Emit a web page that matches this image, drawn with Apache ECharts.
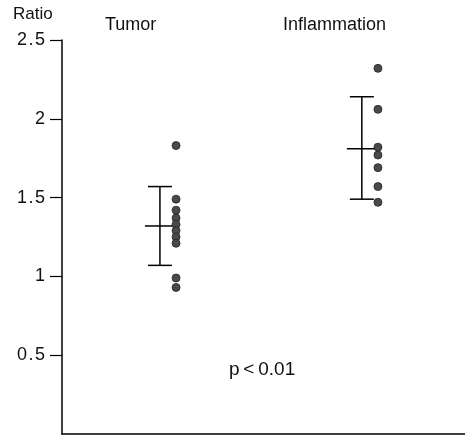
<!DOCTYPE html>
<html>
<head>
<meta charset="utf-8">
<script src="https://cdn.jsdelivr.net/npm/echarts@6/dist/echarts.min.js"></script>
<style>
  html, body { margin: 0; padding: 0; background: #fff; }
  #main { width: 465px; height: 440px; }
</style>
</head>
<body>
<div id="main"></div>
<script>
const GROUPS = ["Tumor", "Inflammation"]
const TUMOR = [1.83, 1.49, 1.42, 1.37, 1.33, 1.29, 1.25, 1.21, 0.99, 0.93]
const INFLAMMATION = [2.32, 2.06, 1.82, 1.77, 1.69, 1.57, 1.47]
// mean, lower, upper
const TUMOR_BAR = [1.32, 1.07, 1.57]
const INFLAMMATION_BAR = [1.81, 1.49, 2.14]
const Y_TICKS = [0.5, 1, 1.5, 2, 2.5]

// x positions on a hidden 0..100 axis
const DOT_X = [28.3, 78.4]
const BAR_X = [24.3, 74.4]

const chart = echarts.init(document.getElementById("main"))

const dots = [
    ...TUMOR.map(v => [DOT_X[0], v]),
    ...INFLAMMATION.map(v => [DOT_X[1], v])
]
const bars = [
    [BAR_X[0], ...TUMOR_BAR],
    [BAR_X[1], ...INFLAMMATION_BAR]
]

const FONT = "Liberation Sans"

chart.setOption({
    animation: false,
    grid: { left: 62, right: 0, top: 40, bottom: 6 },
    xAxis: {
        type: "value", min: 0, max: 100,
        axisLine: { lineStyle: { color: "#000", width: 1.5 } },
        axisTick: { show: false }, axisLabel: { show: false }, splitLine: { show: false }
    },
    yAxis: {
        type: "value", min: 0, max: 2.5, interval: 0.5,
        axisLine: { show: true, lineStyle: { color: "#000", width: 1.5 } },
        axisTick: { show: true, length: 12, customValues: Y_TICKS, lineStyle: { color: "#000", width: 1.2 } },
        axisLabel: {
            color: "#111", fontSize: 18, fontFamily: FONT, margin: 17,
            customValues: Y_TICKS,
            formatter: v => String(v).replace(".", "\u200A.\u200A")
        },
        splitLine: { show: false }
    },
    graphic: [
        { type: "text", left: 13, top: 6, style: { text: "Ratio", fontSize: 17, fontFamily: FONT, fill: "#111" } },
        { type: "text", left: 105, top: 16, style: { text: GROUPS[0], fontSize: 18, fontFamily: FONT, fill: "#111" } },
        { type: "text", left: 283, top: 16, style: { text: GROUPS[1], fontSize: 18, fontFamily: FONT, fill: "#111" } },
        { type: "text", left: 229, top: 360, style: { text: "p\u2009<\u20090.01", fontSize: 19, fontFamily: FONT, fill: "#111" } }
    ],
    series: [
        {
            type: "custom",
            data: bars,
            renderItem: (params, api) => {
                const x = api.value(0)
                const c = api.coord([x, api.value(1)])
                const lo = api.coord([x, api.value(2)])
                const hi = api.coord([x, api.value(3)])
                const st = { stroke: "#000", lineWidth: 1.5 }
                return {
                    type: "group",
                    children: [
                        { type: "line", shape: { x1: hi[0], y1: hi[1], x2: lo[0], y2: lo[1] }, style: st },
                        { type: "line", shape: { x1: hi[0] - 12, y1: hi[1], x2: hi[0] + 12, y2: hi[1] }, style: st },
                        { type: "line", shape: { x1: lo[0] - 12, y1: lo[1], x2: lo[0] + 12, y2: lo[1] }, style: st },
                        { type: "line", shape: { x1: c[0] - 15, y1: c[1], x2: c[0] + 15, y2: c[1] }, style: st }
                    ]
                }
            }
        },
        {
            type: "scatter",
            data: dots,
            symbolSize: 8,
            itemStyle: { color: "#4a4a4a", borderColor: "#222", borderWidth: 0.8, opacity: 1 }
        }
    ]
})
</script>
</body>
</html>
